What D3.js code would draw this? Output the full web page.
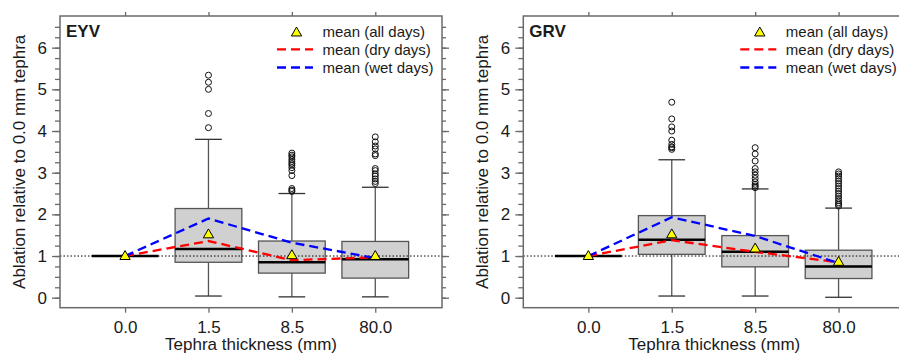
<!DOCTYPE html>
<html>
<head>
<meta charset="utf-8">
<script src="https://cdn.jsdelivr.net/npm/d3@7"></script>
<style>
  body { margin: 0; background: #fff; }
  text { font-family: "Liberation Sans", Arial, sans-serif; fill: #1a1a1a; }
</style>
</head>
<body>
<svg id="chart" width="899" height="357"></svg>
<script>
const categories = ["0.0", "1.5", "8.5", "80.0"];
const yMajorTicks = [0, 1, 2, 3, 4, 5, 6];
const legendLabels = ["mean (all days)", "mean (dry days)", "mean (wet days)"];

// EYV
const eyvQ1 = [1, 0.85, 0.59, 0.47];
const eyvMedian = [1, 1.17, 0.85, 0.92];
const eyvQ3 = [1, 2.14, 1.36, 1.35];
const eyvWhiskerLo = [1, 0.04, 0.02, 0.02];
const eyvWhiskerHi = [1, 3.80, 2.50, 2.65];
const eyvOutliers = [
  [],
  [4.08, 4.42, 5.0, 5.17, 5.34],
  [2.55, 2.58, 2.62, 2.93, 3.05, 3.12, 3.18, 3.22, 3.27, 3.32, 3.38, 3.42, 3.47],
  [2.74, 2.79, 2.85, 2.92, 2.97, 3.05, 3.10, 3.41, 3.45, 3.57, 3.64, 3.74, 3.86]
];
const eyvMeanAll = [1, 1.52, 1.02, 1.0];
const eyvMeanDry = [1, 1.36, 0.90, 0.97];
const eyvMeanWet = [1, 1.90, 1.32, 0.95];

// GRV
const grvQ1 = [1, 1.04, 0.74, 0.46];
const grvMedian = [1, 1.39, 1.10, 0.75];
const grvQ3 = [1, 1.97, 1.49, 1.14];
const grvWhiskerLo = [1, 0.04, 0.04, 0.01];
const grvWhiskerHi = [1, 3.31, 2.61, 2.15];
const grvOutliers = [
  [],
  [3.56, 3.60, 3.62, 3.68, 3.78, 4.00, 4.10, 4.29, 4.69],
  [2.64, 2.68, 2.72, 2.78, 2.86, 2.94, 3.02, 3.10, 3.28, 3.45, 3.60],
  [2.20, 2.24, 2.28, 2.33, 2.38, 2.44, 2.50, 2.56, 2.62, 2.68, 2.74, 2.80, 2.86, 2.92, 2.97, 3.02]
];
const grvMeanAll = [1, 1.52, 1.18, 0.86];
const grvMeanDry = [1, 1.38, 1.10, 0.85];
const grvMeanWet = [1, 1.93, 1.48, 0.83];

const panels = [
  { name: "EYV", x0: 60, q1: eyvQ1, med: eyvMedian, q3: eyvQ3, lo: eyvWhiskerLo, hi: eyvWhiskerHi,
    out: eyvOutliers, all: eyvMeanAll, dry: eyvMeanDry, wet: eyvMeanWet },
  { name: "GRV", x0: 523.3, q1: grvQ1, med: grvMedian, q3: grvQ3, lo: grvWhiskerLo, hi: grvWhiskerHi,
    out: grvOutliers, all: grvMeanAll, dry: grvMeanDry, wet: grvMeanWet }
];

const svg = d3.select("#chart");
const frameW = 382, frameTop = 16, frameBottom = 307.7;
const frameCol = "#6a6a6a";
const triangle = d3.symbol().type(d3.symbolTriangle).size(46);

panels.forEach(p => {
  const g = svg.append("g");
  const x = d3.scaleLinear().domain([0.22, 4.8]).range([p.x0, p.x0 + frameW]);
  const y = d3.scaleLinear().domain([-0.24, 6.76]).range([frameBottom, frameTop]);
  const pos = i => x(i + 1);
  const minor = d3.range(0, 6.51, 0.25);

  // axes
  const styleAxis = sel => {
    sel.select(".domain").remove();
    sel.selectAll(".tick line").attr("stroke", frameCol).attr("stroke-width", 1.3);
    sel.selectAll("text").attr("font-size", 17).attr("fill", "#1a1a1a");
  };
  g.append("g").attr("transform", `translate(${p.x0},0)`)
    .call(d3.axisLeft(y).tickValues(minor).tickSize(5).tickFormat(""))
    .call(styleAxis);
  g.append("g").attr("transform", `translate(${p.x0},0)`)
    .call(d3.axisLeft(y).tickValues(yMajorTicks).tickSize(8).tickPadding(5).tickFormat(d3.format("d")))
    .call(styleAxis);
  g.append("g").attr("transform", `translate(${p.x0 + frameW},0)`)
    .call(d3.axisRight(y).tickValues(minor).tickSize(4).tickFormat(""))
    .call(styleAxis);
  g.append("g").attr("transform", `translate(${p.x0 + frameW},0)`)
    .call(d3.axisRight(y).tickValues(yMajorTicks).tickSize(7).tickFormat(""))
    .call(styleAxis);
  const xBand = d3.scalePoint().domain(categories).range([pos(0), pos(3)]);
  g.append("g").attr("transform", `translate(0,${frameBottom})`)
    .call(d3.axisBottom(xBand).tickSize(5).tickPadding(8))
    .call(styleAxis);
  g.append("g").attr("transform", `translate(0,${frameTop})`)
    .call(d3.axisTop(xBand).tickSize(4).tickFormat(""))
    .call(styleAxis);

  // boxes
  const hw = x(0.4) - x(0), cw = x(0.16) - x(0);
  categories.forEach((c, i) => {
    const cx = pos(i);
    if (p.q3[i] > p.q1[i]) {
      g.append("line").attr("x1", cx).attr("x2", cx).attr("y1", y(p.q3[i])).attr("y2", y(p.hi[i]))
        .attr("stroke", "#555").attr("stroke-width", 1.3);
      g.append("line").attr("x1", cx).attr("x2", cx).attr("y1", y(p.q1[i])).attr("y2", y(p.lo[i]))
        .attr("stroke", "#555").attr("stroke-width", 1.3);
      [p.hi[i], p.lo[i]].forEach(v => {
        g.append("line").attr("x1", cx - cw).attr("x2", cx + cw).attr("y1", y(v)).attr("y2", y(v))
          .attr("stroke", "#333").attr("stroke-width", 1.3);
      });
      g.append("rect").attr("x", cx - hw).attr("width", 2 * hw)
        .attr("y", y(p.q3[i])).attr("height", y(p.q1[i]) - y(p.q3[i]))
        .attr("fill", "#d0d0d0").attr("stroke", "#555").attr("stroke-width", 1.3);
    }
    g.append("line").attr("x1", cx - hw).attr("x2", cx + hw).attr("y1", y(p.med[i])).attr("y2", y(p.med[i]))
      .attr("stroke", "#000").attr("stroke-width", 2.5);
    p.out[i].forEach(v => {
      g.append("circle").attr("cx", cx).attr("cy", y(v)).attr("r", 3)
        .attr("fill", "none").attr("stroke", "#111").attr("stroke-width", 1);
    });
  });

  // reference line
  g.append("line").attr("x1", p.x0).attr("x2", p.x0 + frameW).attr("y1", y(1)).attr("y2", y(1))
    .attr("stroke", "#000").attr("stroke-width", 1).attr("stroke-dasharray", "1.5,2");

  // mean lines
  const line = d3.line().x((d, i) => pos(i)).y(d => y(d));
  g.append("path").datum(p.dry).attr("d", line).attr("fill", "none")
    .attr("stroke", "#ff0000").attr("stroke-width", 2.3).attr("stroke-dasharray", "9,5");
  g.append("path").datum(p.wet).attr("d", line).attr("fill", "none")
    .attr("stroke", "#0000ff").attr("stroke-width", 2.3).attr("stroke-dasharray", "9,5");
  p.all.forEach((v, i) => {
    g.append("path").attr("d", triangle).attr("transform", `translate(${pos(i)},${y(v) + 0.5})`)
      .attr("fill", "#ffff00").attr("stroke", "#000").attr("stroke-width", 1);
  });

  // frame
  g.append("rect").attr("x", p.x0).attr("y", frameTop).attr("width", frameW).attr("height", frameBottom - frameTop)
    .attr("fill", "none").attr("stroke", frameCol).attr("stroke-width", 1.5);

  // title
  g.append("text").attr("x", p.x0 + 6).attr("y", 36.7).attr("font-size", 17).attr("font-weight", "bold")
    .text(p.name);

  // legend
  const lx = p.x0 + 217;
  g.append("path").attr("d", triangle).attr("transform", `translate(${lx + 19.5},33)`)
    .attr("fill", "#ffff00").attr("stroke", "#000").attr("stroke-width", 1);
  g.append("line").attr("x1", lx).attr("x2", lx + 36).attr("y1", 49.3).attr("y2", 49.3)
    .attr("stroke", "#ff0000").attr("stroke-width", 2.3).attr("stroke-dasharray", "9,5");
  g.append("line").attr("x1", lx).attr("x2", lx + 36).attr("y1", 67.5).attr("y2", 67.5)
    .attr("stroke", "#0000ff").attr("stroke-width", 2.3).attr("stroke-dasharray", "9,5");
  legendLabels.forEach((t, i) => {
    g.append("text").attr("x", lx + 45.5).attr("y", 36.6 + i * 18).attr("font-size", 15).text(t);
  });

  // axis titles
  g.append("text").attr("x", p.x0 + frameW / 2).attr("y", 350).attr("text-anchor", "middle")
    .attr("font-size", 17).text("Tephra thickness (mm)");
  g.append("text").attr("transform", `translate(${p.x0 - 35},${(frameTop + frameBottom) / 2}) rotate(-90)`)
    .attr("text-anchor", "middle").attr("font-size", 17).text("Ablation relative to 0.0 mm tephra");
});
</script>
</body>
</html>
